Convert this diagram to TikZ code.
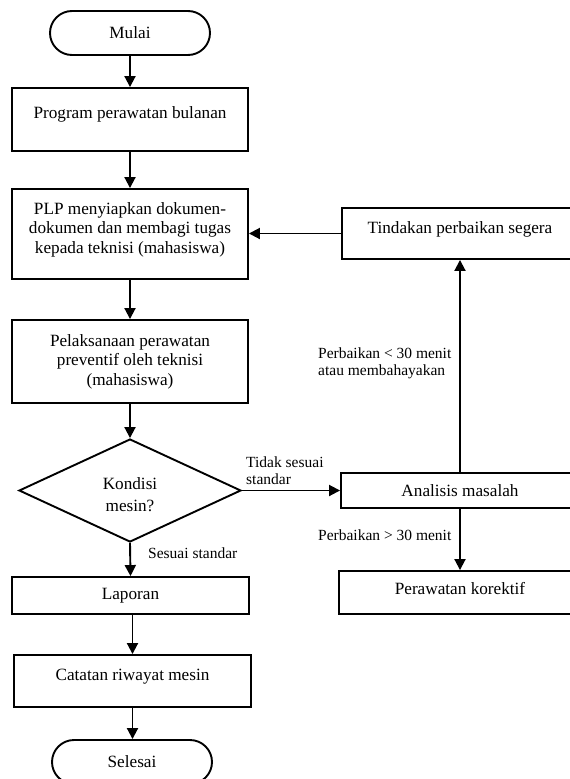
\documentclass[tikz,border=0pt]{standalone}
\usepackage{fontspec}
\setmainfont{Liberation Serif}
\usetikzlibrary{arrows.meta,shapes.geometric}
\begin{document}
\begin{tikzpicture}[x=1pt,y=-1pt,
  box/.style={draw, line width=1.9pt, rectangle, inner sep=0pt},
  term/.style={draw, line width=1.9pt, rectangle, rounded corners=22pt, inner sep=0pt, font=\fontsize{17.2}{19.6}\selectfont},
  dia/.style={draw, line width=1.9pt, diamond, inner sep=0pt},
  txt/.style={font=\fontsize{17.2}{19.6}\selectfont, align=center, inner sep=0pt},
  lab/.style={font=\fontsize{15.5}{17}\selectfont, align=left, inner sep=0pt},
  arr/.style={-{Triangle[length=11pt,width=11pt]}, line width=1.9pt}]
\useasboundingbox (0,0) rectangle (570,779);
\clip (0,0) rectangle (570,779);
% left column
\node[term, minimum width=160pt, minimum height=44pt] (mulai) at (130,33) {Mulai};
\node[box, minimum width=236pt, minimum height=63pt] (b1) at (130,119.5) {};
\node[txt] (t1) at (130,114) {Program perawatan bulanan};
\node[box, minimum width=236pt, minimum height=90pt] (b2) at (130,234) {};
\node[txt] (t2) at (130,229.5) {PLP menyiapkan dokumen-\\dokumen dan membagi tugas\\kepada teknisi (mahasiswa)};
\node[box, minimum width=236pt, minimum height=83pt] (b3) at (130,361.5) {};
\node[txt] (t3) at (130,361.5) {Pelaksanaan perawatan\\preventif oleh teknisi\\(mahasiswa)};
\node[dia, minimum width=222pt, minimum height=103pt] (kond) at (130,490.5) {};
\node[txt, font=\fontsize{17.2}{22}\selectfont] (tkond) at (130,494.5) {Kondisi\\mesin?};
\node[box, txt, draw, line width=1.9pt, minimum width=237pt, minimum height=37pt] (lap) at (130.5,595.5) {Laporan};
\node[box, minimum width=237pt, minimum height=52pt] (cat) at (132.5,681) {};
\node[txt] (tcat) at (132.5,676.5) {Catatan riwayat mesin};
\node[term, minimum width=160pt, minimum height=44pt] (sel) at (132,762) {Selesai};
% right column
\node[box, minimum width=236pt, minimum height=51pt] (tind) at (460,233.5) {};
\node[txt] (ttind) at (460,229) {Tindakan perbaikan segera};
\node[box, txt, draw, line width=1.9pt, minimum width=238pt, minimum height=35pt] (ana) at (460,490.5) {Analisis masalah};
\node[box, minimum width=242pt, minimum height=43pt] (kor) at (460,592.5) {};
\node[txt] (tkor) at (460,588.5) {Perawatan korektif};
% connectors
\draw[arr] (mulai.south) -- (b1.north);
\draw[arr] (b1.south) -- (b2.north);
\draw[arr] (b2.south) -- (b3.north);
\draw[arr] (b3.south) -- (kond.north);
\draw[arr] (kond.south) -- (lap.north);
\draw[arr] (cat.north |- lap.south) -- (cat.north);
\draw[arr] (cat.south) -- (cat.south |- sel.north);
\draw[arr] (kond.east) -- (ana.west);
\draw[arr] (ana.north) -- (tind.south);
\draw[arr] (ana.south) -- (kor.north);
\draw[arr] (tind.west) -- (tind.west -| b2.east);
% labels
\node[lab, anchor=north west] (l1) at (246,456.5) {Tidak sesuai\\standar};
\node[lab, anchor=base west] (l2) at (148,558) {Sesuai standar};
\node[lab, anchor=north west] (l3) at (318,347.5) {Perbaikan < 30 menit\\atau membahayakan};
\node[lab, anchor=base west] (l4) at (318,540) {Perbaikan > 30 menit};
\end{tikzpicture}
\end{document}
